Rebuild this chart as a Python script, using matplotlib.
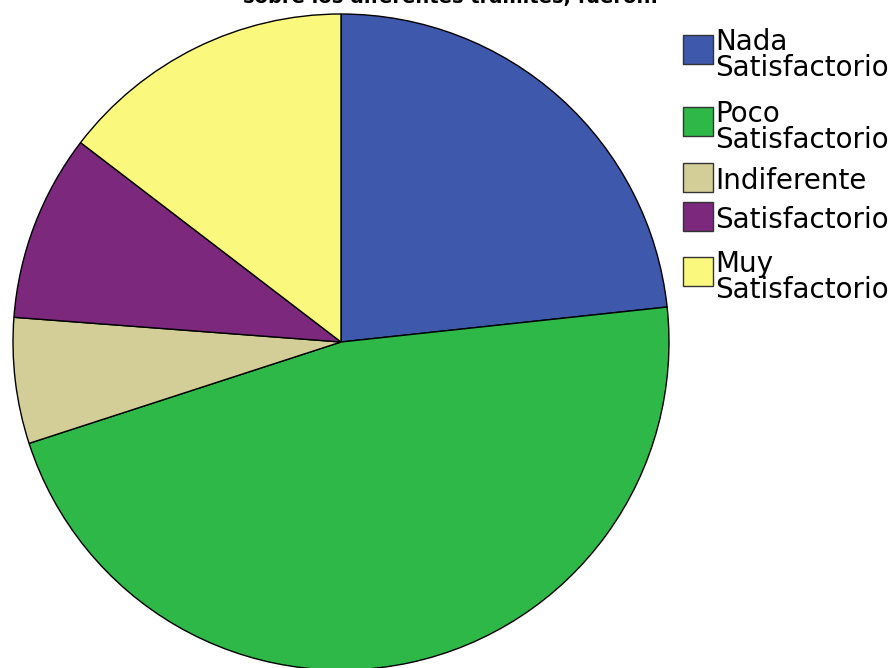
import matplotlib.pyplot as plt
from matplotlib.patches import Rectangle

# Satisfacción con los trámites (porcentaje de respuestas)
categories = ['Nada\nSatisfactorio', 'Poco\nSatisfactorio', 'Indiferente',
              'Satisfactorio', 'Muy\nSatisfactorio']
percentages = [23.3, 46.7, 6.2, 9.2, 14.6]
colors = ['#3e58ac', '#2eb848', '#d3ce97', '#7b287d', '#fbf87e']
title = 'sobre los diferentes trámites, fueron:'

W, H = 896, 668
fig = plt.figure(figsize=(W / 100, H / 100), dpi=100)
plt.rcParams['font.family'] = ['DejaVu Sans']

# pie: center (341, 342) px, radius 328 px
cx, cy, r = 341, 342, 328
ax = fig.add_axes([(cx - r) / W, (H - cy - r) / H, 2 * r / W, 2 * r / H])
wedges, _ = ax.pie(percentages, colors=colors, startangle=90, counterclock=False,
                   radius=1, wedgeprops={'edgecolor': 'black', 'linewidth': 1})
ax.set_xlim(-1, 1)
ax.set_ylim(-1, 1)
ax.axis('off')

# title sits partly above the top edge
fig.text(451 / W, (H - 3) / H, title, ha='center', va='baseline',
         fontsize=14, fontweight='bold')

# legend drawn by hand: square swatch + label, top edges in px
swatch_tops = [35, 107, 163, 202, 257]
for label, color, top in zip(categories, colors, swatch_tops):
    fig.patches.append(Rectangle((683 / W, (H - top - 29) / H), 30 / W, 29 / H,
                                 transform=fig.transFigure, facecolor=color,
                                 edgecolor='#333333', linewidth=1))
    n_lines = label.count('\n') + 1
    cap_top = top - 4 if n_lines > 1 else top + 7
    fig.text(715 / W, (H - cap_top + 3) / H, label, ha='left', va='top',
             fontsize=20, linespacing=0.92)

fig.savefig('out.png', dpi=100)
